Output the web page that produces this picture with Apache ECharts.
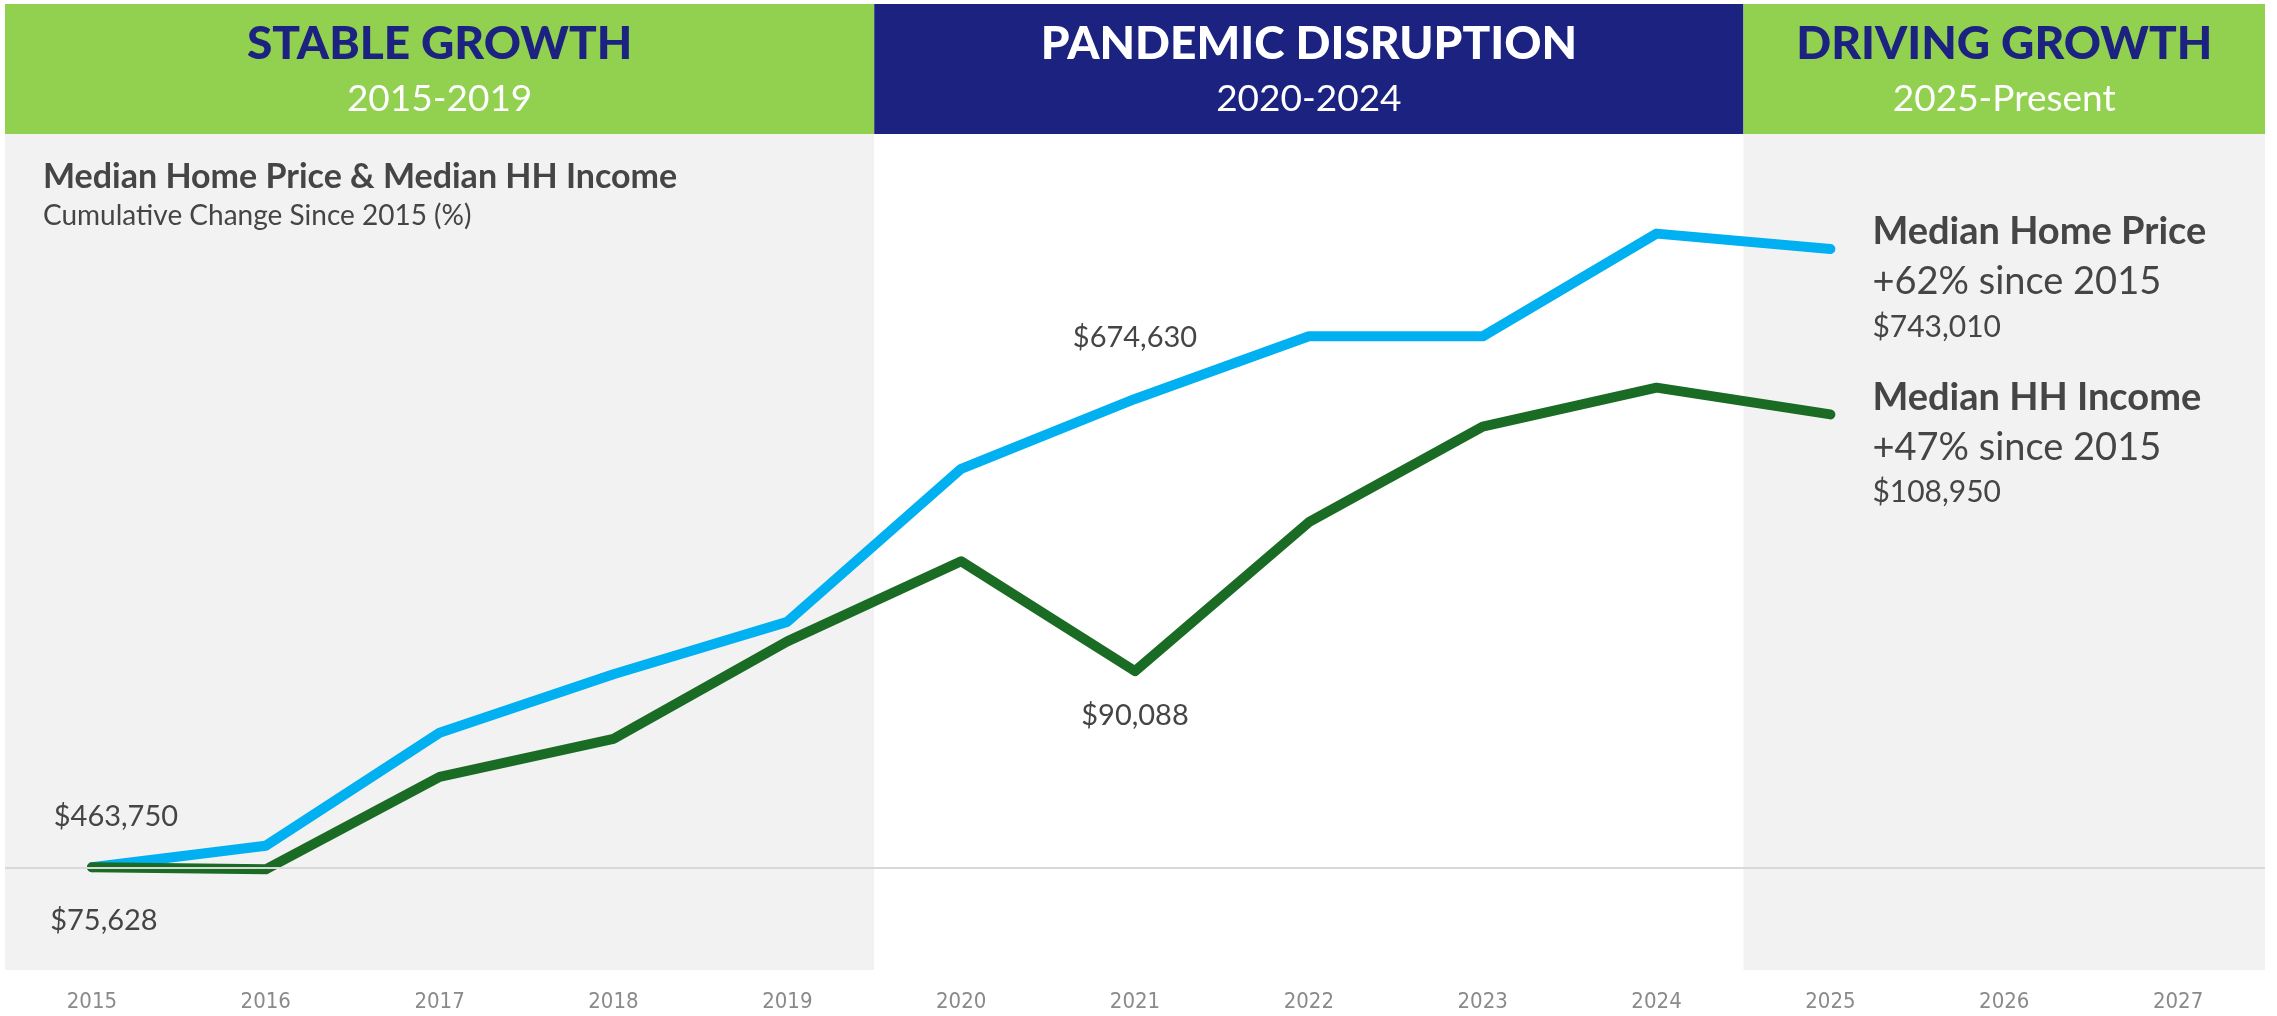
<!DOCTYPE html>
<html style="height: 100%">
<head>
    <meta charset="utf-8">
    <script src="https://cdn.jsdelivr.net/npm/echarts@6/dist/echarts.min.js"></script>
</head>
<body style="height: 100%; margin: 0; background: #fff">
    <div id="main" style="width: 2277px; height: 1016px"></div>
    <script type="text/javascript">
        // categories
        var years = ['2015', '2016', '2017', '2018', '2019', '2020', '2021', '2022', '2023', '2024', '2025', '2026', '2027'];

        // cumulative change since 2015 (%)
        var homePriceChange = [0, 2.1, 13.1, 18.8, 23.9, 38.8, 45.6, 51.7, 51.7, 61.7, 60.2, null, null];
        var incomeChange = [0, -0.2, 8.8, 12.5, 22.0, 29.8, 19.1, 33.6, 42.9, 46.7, 44.1, null, null];

        // dollar callouts on the lines (index -> text)
        var homePriceNotes = { 0: '$463,750', 6: '$674,630' };
        var incomeNotes = { 0: '$75,628', 6: '$90,088' };

        // end labels
        var homePriceEnd = ['Median Home Price', '+62% since 2015', '$743,010'];
        var incomeEnd = ['Median HH Income', '+47% since 2015', '$108,950'];

        // period bands
        var periodNames = ['STABLE GROWTH', 'PANDEMIC DISRUPTION', 'DRIVING GROWTH'];
        var periodYears = ['2015-2019', '2020-2024', '2025-Present'];
        var periodFrom = [0, 5, 10];
        var periodTo = [4, 9, 12];

        var FONT = 'Lato, "Noto Sans", sans-serif';
        var TEXT = '#454545';
        var GREEN_BAND = '#92d050';
        var NAVY = '#1b2280';

        function withNotes(values, notes, placement) {
            return values.map(function (v, i) {
                if (notes[i] === undefined) return v;
                var p = placement[i];
                return {
                    value: v,
                    label: {
                        show: true,
                        formatter: notes[i],
                        position: p.position,
                        distance: p.distance,
                        offset: p.offset,
                        fontFamily: FONT,
                        fontSize: 29,
                        color: TEXT
                    }
                };
            });
        }

        function endLabel(lines) {
            return {
                show: true,
                distance: 42,
                offset: [0, 28],
                fontFamily: FONT,
                color: TEXT,
                formatter: '{a|' + lines[0] + '}\n{b|' + lines[1] + '}\n{c|' + lines[2] + '}',
                rich: {
                    a: { fontFamily: FONT, fontWeight: 'bold', fontSize: 38, lineHeight: 50, color: TEXT },
                    b: { fontFamily: FONT, fontSize: 38, lineHeight: 50, color: TEXT },
                    c: { fontFamily: FONT, fontSize: 30, lineHeight: 40, color: TEXT }
                }
            };
        }

        var plotBands = [];
        var headerBands = [];
        for (var i = 0; i < periodNames.length; i++) {
            var navy = i === 1;
            plotBands.push([
                { xAxis: periodFrom[i] - 0.5, itemStyle: { color: navy ? '#ffffff' : '#f2f2f2' } },
                { xAxis: periodTo[i] + 0.5 }
            ]);
            headerBands.push([
                {
                    xAxis: periodFrom[i] - 0.5,
                    itemStyle: { color: navy ? NAVY : GREEN_BAND },
                    label: {
                        show: true,
                        position: 'inside',
                        offset: [0, 3],
                        formatter: '{t|' + periodNames[i] + '}\n{s|' + periodYears[i] + '}',
                        rich: {
                            t: { fontFamily: FONT, fontWeight: 900, fontSize: 46, lineHeight: 55, color: navy ? '#ffffff' : NAVY },
                            s: { fontFamily: FONT, fontSize: 37, lineHeight: 55, color: '#ffffff' }
                        }
                    }
                },
                { xAxis: periodTo[i] + 0.5 }
            ]);
        }

        var myChart = echarts.init(document.getElementById('main'));

        var option = {
            animation: false,
            title: {
                left: 38,
                top: 155,
                text: 'Median Home Price & Median HH Income',
                subtext: 'Cumulative Change Since 2015 (%)',
                itemGap: 8,
                textStyle: { fontFamily: FONT, fontWeight: 'bold', fontSize: 34, color: TEXT },
                subtextStyle: { fontFamily: FONT, fontSize: 28, color: TEXT }
            },
            grid: [
                { left: 5, right: 12, top: 134, bottom: 46 },
                { left: 5, right: 12, top: 4, height: 130 }
            ],
            xAxis: [
                {
                    type: 'category',
                    gridIndex: 0,
                    data: years,
                    boundaryGap: true,
                    axisLine: { show: false },
                    axisTick: { show: false },
                    axisLabel: {
                        margin: 21,
                        fontFamily: '"Liberation Sans Narrow", "DejaVu Sans Condensed", sans-serif',
                        fontSize: 22,
                        color: '#8a8a8a'
                    }
                },
                { type: 'value', gridIndex: 0, min: -0.5, max: 12.5, show: false },
                { type: 'value', gridIndex: 1, min: -0.5, max: 12.5, show: false }
            ],
            yAxis: [
                { type: 'value', gridIndex: 0, min: -10, max: 71.4, show: false, splitLine: { show: false } },
                { type: 'value', gridIndex: 1, min: 0, max: 1, show: false }
            ],
            series: [
                {
                    name: 'bands',
                    type: 'line',
                    xAxisIndex: 1,
                    yAxisIndex: 0,
                    data: [],
                    silent: true,
                    markArea: { silent: true, data: plotBands },
                    markLine: {
                        silent: true,
                        symbol: 'none',
                        label: { show: false },
                        lineStyle: { color: '#d9d9d9', width: 2, type: 'solid' },
                        data: [{ yAxis: 0 }]
                    }
                },
                {
                    name: 'header',
                    type: 'line',
                    xAxisIndex: 2,
                    yAxisIndex: 1,
                    data: [],
                    silent: true,
                    markArea: { silent: true, data: headerBands }
                },
                {
                    name: 'Median Home Price',
                    type: 'line',
                    xAxisIndex: 0,
                    yAxisIndex: 0,
                    showSymbol: true,
                    symbol: 'circle',
                    symbolSize: 1,
                    lineStyle: { color: '#00b0f0', width: 10, cap: 'round', join: 'round' },
                    itemStyle: { color: '#00b0f0' },
                    data: withNotes(homePriceChange, homePriceNotes, {
                        0: { position: 'top', distance: 36, offset: [24, 0] },
                        6: { position: 'top', distance: 46, offset: [0, 0] }
                    }),
                    endLabel: endLabel(homePriceEnd),
                    z: 3
                },
                {
                    name: 'Median HH Income',
                    type: 'line',
                    xAxisIndex: 0,
                    yAxisIndex: 0,
                    showSymbol: true,
                    symbol: 'circle',
                    symbolSize: 1,
                    lineStyle: { color: '#1a6b24', width: 10, cap: 'round', join: 'round' },
                    itemStyle: { color: '#1a6b24' },
                    data: withNotes(incomeChange, incomeNotes, {
                        0: { position: 'bottom', distance: 38, offset: [12, 0] },
                        6: { position: 'bottom', distance: 30, offset: [0, 0] }
                    }),
                    endLabel: endLabel(incomeEnd),
                    z: 4
                }
            ]
        };

        myChart.setOption(option);
    </script>
</body>
</html>
